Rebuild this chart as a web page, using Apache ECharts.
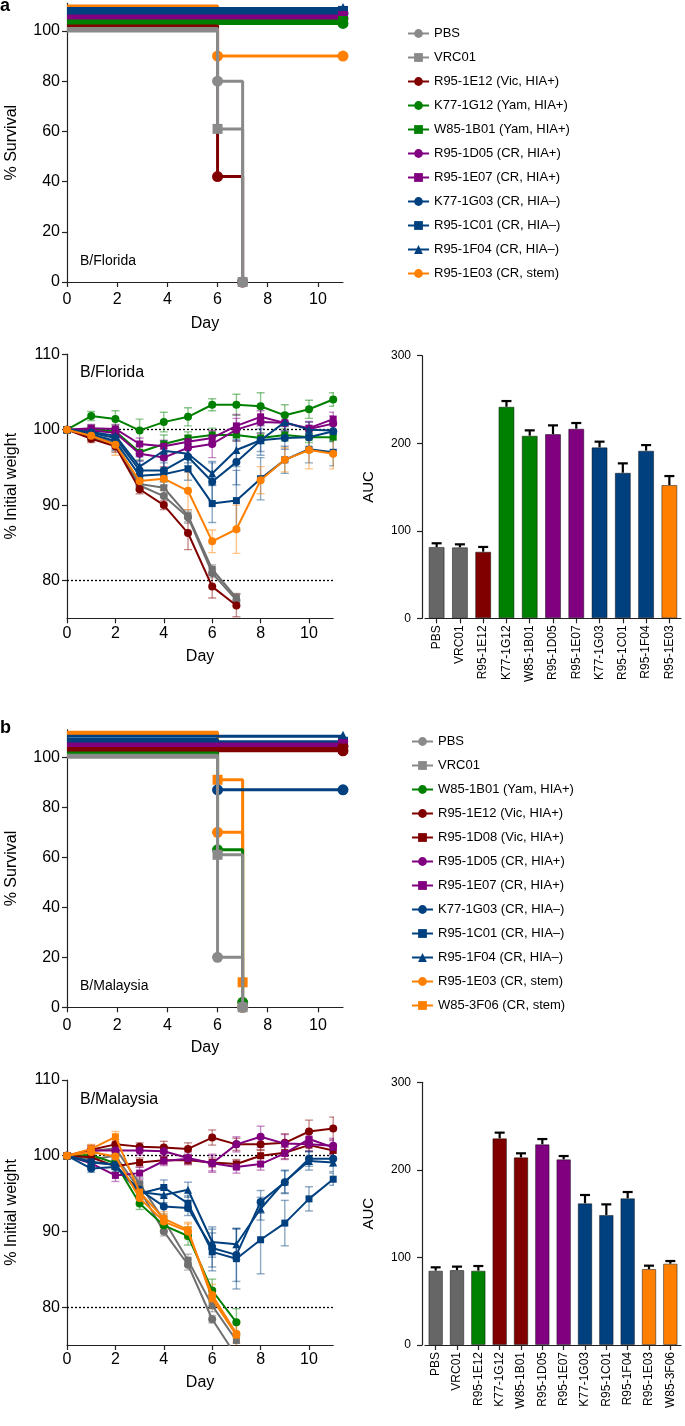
<!DOCTYPE html>
<html>
<head>
<meta charset="utf-8">
<script src="https://cdn.jsdelivr.net/npm/echarts@6/dist/echarts.min.js"></script>
<style>
  html, body { margin: 0; padding: 0; background: #fff; }
  #chart { width: 685px; height: 1426px; }
</style>
</head>
<body>
<div id="chart"></div>
<script>
// ---- data -------------------------------------------------------------
const dayTicks = [0, 2, 4, 6, 8, 10];
const survivalTicks = [0, 20, 40, 60, 80, 100];
const weightTicks = [80, 90, 100, 110];
const aucTicks = [0, 100, 200, 300];
const weightRefLines = [100, 80];

// panel a, B/Florida
const namesA = [
  'PBS', 'VRC01', 'R95-1E12 (Vic, HIA+)', 'K77-1G12 (Yam, HIA+)', 'W85-1B01 (Yam, HIA+)',
  'R95-1D05 (CR, HIA+)', 'R95-1E07 (CR, HIA+)', 'K77-1G03 (CR, HIA–)', 'R95-1C01 (CR, HIA–)',
  'R95-1F04 (CR, HIA–)', 'R95-1E03 (CR, stem)'
];
// [day, % survival] as plotted (100% lines are offset in the figure)
const survivalA = [
  [[0, 100], [6, 80], [7, 0]],
  [[0, 101], [6, 61], [7, 0]],
  [[0, 102], [6, 42], [7, 0]],
  [[0, 103], [11, 103]],
  [[0, 104], [11, 104]],
  [[0, 105], [11, 105]],
  [[0, 106], [11, 106]],
  [[0, 107], [11, 107]],
  [[0, 108], [11, 108]],
  [[0, 109], [11, 109]],
  [[0, 110], [6, 90], [11, 90]]
];
// % initial weight, day 0..11
const weightA = [
  [100, 99.0, 98.0, 92.6, 91.2, 88.4, 81.0, 77.4],
  [100, 99.2, 98.3, 92.8, 92.3, 88.6, 81.5, 77.7],
  [100, 98.8, 97.8, 92.1, 90.0, 86.3, 79.2, 76.7],
  [100, 101.8, 101.4, 99.9, 101.0, 101.7, 103.3, 103.3, 103.1, 101.9, 102.7, 104.0],
  [100, 100.1, 99.8, 97.0, 98.1, 98.9, 99.3, 99.3, 98.9, 99.3, 99.0, 99.0],
  [100, 99.9, 99.6, 96.8, 96.3, 97.6, 98.1, 100.0, 101.0, 100.9, 100.1, 100.8],
  [100, 100.2, 100.1, 98.1, 97.8, 98.4, 98.9, 100.5, 101.7, 100.9, 100.2, 101.4],
  [100, 99.6, 98.9, 94.6, 94.6, 96.4, 93.1, 95.7, 98.6, 98.9, 99.0, 99.8],
  [100, 99.4, 98.5, 93.9, 94.1, 94.8, 90.2, 90.6, 93.5, 96.0, 97.4, 97.0],
  [100, 99.7, 99.2, 95.1, 97.2, 96.8, 94.2, 97.3, 98.6, 101.0, 100.0, 99.9],
  [100, 99.2, 98.0, 93.2, 93.5, 91.9, 85.2, 86.8, 93.3, 96.0, 97.3, 96.8]
];
const weightErrA = [
  [0, 0.5, 0.8, 0.7, 0.8, 0.8, 0.6, 0.8],
  [0, 0.5, 0.8, 0.7, 0.8, 0.8, 0.6, 0.6],
  [0, 0.5, 0.8, 0.6, 0.6, 2.2, 1.5, 1.5],
  [0, 0.6, 1.1, 1.5, 1.3, 1.2, 0.8, 1.4, 1.8, 1.4, 1.2, 0.9],
  [0, 0.5, 0.8, 1.0, 1.2, 0.8, 0.9, 0.8, 0.7, 0.8, 0.7, 0.6],
  [0, 0.5, 0.6, 1.0, 1.2, 1.0, 1.8, 1.5, 1.5, 1.0, 1.0, 1.0],
  [0, 0.5, 0.6, 0.8, 0.8, 0.8, 0.9, 1.5, 1.2, 1.2, 0.8, 0.9],
  [0, 0.5, 1.0, 1.3, 1.5, 1.2, 2.5, 3.0, 2.0, 1.5, 1.5, 1.3],
  [0, 0.6, 1.2, 1.5, 1.5, 1.5, 2.5, 4.0, 2.8, 1.8, 1.8, 1.8],
  [0, 0.5, 1.0, 1.3, 1.3, 1.2, 1.6, 2.2, 1.5, 1.2, 1.0, 1.0],
  [0, 0.6, 1.4, 1.2, 1.5, 2.5, 1.5, 3.2, 1.8, 1.6, 2.5, 2.0]
];
const aucLabelsA = ['PBS', 'VRC01', 'R95-1E12', 'K77-1G12', 'W85-1B01', 'R95-1D05',
  'R95-1E07', 'K77-1G03', 'R95-1C01', 'R95-1F04', 'R95-1E03'];
const aucA = [81.5, 81.1, 76.1, 241.7, 208.6, 210.5, 216.6, 195.3, 166.3, 191.5, 152.3];
const aucErrA = [4.2, 3.4, 5.4, 6.5, 6.1, 9.9, 6.5, 6.5, 10.7, 6.4, 10.2];

// panel b, B/Malaysia
const namesB = [
  'PBS', 'VRC01', 'W85-1B01 (Yam, HIA+)', 'R95-1E12 (Vic, HIA+)', 'R95-1D08 (Vic, HIA+)',
  'R95-1D05 (CR, HIA+)', 'R95-1E07 (CR, HIA+)', 'K77-1G03 (CR, HIA–)', 'R95-1C01 (CR, HIA–)',
  'R95-1F04 (CR, HIA–)', 'R95-1E03 (CR, stem)', 'W85-3F06 (CR, stem)'
];
const survivalB = [
  [[0, 100], [6, 20], [7, 0]],
  [[0, 100.8], [6, 61], [7, 0]],
  [[0, 101.7], [6, 63], [7, 2]],
  [[0, 102.6], [11, 102.6]],
  [[0, 103.5], [11, 103.5]],
  [[0, 104.4], [11, 104.4]],
  [[0, 105.3], [11, 105.3]],
  [[0, 107.1], [6, 87], [11, 87]],
  [[0, 106.2], [11, 106.2]],
  [[0, 108.4], [11, 108.4]],
  [[0, 109.2], [6, 70], [7, 0]],
  [[0, 110], [6, 91], [7, 10]]
];
const weightB = [
  [100, 99.5, 100.0, 95.5, 90.0, 85.6, 78.4, 73.5],
  [100, 100.6, 101.0, 96.3, 91.5, 86.2, 80.2, 75.6],
  [100, 100.1, 99.0, 93.7, 90.8, 89.4, 82.2, 78.0],
  [100, 100.8, 101.5, 101.2, 101.1, 100.9, 102.4, 101.5, 101.5, 101.7, 103.2, 103.6],
  [100, 99.8, 98.6, 99.1, 99.4, 99.4, 99.1, 98.9, 100.0, 100.4, 101.4, 100.7],
  [100, 100.7, 100.7, 100.7, 100.6, 99.7, 99.0, 101.5, 102.5, 101.6, 101.5, 101.3],
  [100, 99.0, 97.4, 97.7, 99.3, 99.6, 99.0, 98.5, 98.9, 100.3, 102.2, 101.1],
  [100, 98.3, 98.5, 95.5, 93.3, 93.1, 87.8, 86.9, 93.9, 96.5, 99.6, 99.6],
  [100, 99.2, 98.8, 95.0, 95.8, 93.7, 87.3, 86.4, 88.9, 91.1, 94.3, 96.9],
  [100, 99.1, 98.8, 95.2, 94.8, 95.5, 88.6, 88.3, 93.0, 96.6, 99.3, 99.1],
  [100, 100.5, 99.9, 94.4, 91.3, 90.0, 81.6, 76.5],
  [100, 100.9, 102.5, 95.2, 91.7, 90.2, 81.1, 76.3]
];
const weightErrB = [
  [0, 0.5, 0.6, 0.8, 0.6, 0.7, 0.5, 0.8],
  [0, 0.6, 0.6, 0.8, 0.8, 0.8, 0.8, 0.8],
  [0, 0.5, 0.6, 0.8, 0.8, 1.2, 1.5, 1.8],
  [0, 0.6, 0.6, 0.5, 0.8, 0.8, 1.0, 0.8, 0.8, 1.2, 1.5, 1.5],
  [0, 0.5, 0.8, 0.6, 0.5, 0.6, 0.6, 0.6, 0.8, 0.8, 0.8, 0.6],
  [0, 0.6, 0.6, 0.6, 0.6, 0.8, 1.2, 1.0, 1.4, 1.2, 0.9, 1.0],
  [0, 0.8, 0.8, 0.8, 0.6, 0.6, 1.0, 0.8, 0.8, 0.8, 0.8, 0.9],
  [0, 0.5, 0.6, 1.0, 1.3, 1.0, 2.5, 3.5, 1.5, 1.5, 1.0, 1.0],
  [0, 0.5, 0.6, 0.8, 1.0, 1.0, 2.5, 4.0, 4.5, 3.0, 1.6, 0.8],
  [0, 0.5, 0.6, 0.8, 1.0, 1.0, 2.0, 2.0, 1.5, 1.5, 1.2, 1.2],
  [0, 0.6, 0.6, 0.8, 1.0, 1.0, 1.4, 1.2],
  [0, 0.6, 0.7, 0.8, 0.9, 1.0, 1.3, 1.8]
];
const aucLabelsB = ['PBS', 'VRC01', 'R95-1E12', 'K77-1G12', 'W85-1B01', 'R95-1D05',
  'R95-1E07', 'K77-1G03', 'R95-1C01', 'R95-1F04', 'R95-1E03', 'W85-3F06'];
const aucB = [84.9, 85.6, 84.9, 236.0, 214.3, 229.2, 212.0, 161.8, 148.5, 167.5, 86.8, 92.9];
const aucErrB = [3.8, 3.9, 5.3, 6.5, 4.6, 6.0, 3.8, 9.5, 12.1, 7.2, 3.8, 3.0];

// ---- styles -----------------------------------------------------------
const FONT = "'Liberation Sans', Arial, Helvetica, sans-serif";
const GREY = '#8a8a8a';
const GREY_W = '#707070';
const GREY_BAR = '#666666';
const RED = '#800000';
const GREEN = '#008000';
const PURPLE = '#800080';
const BLUE = '#00407f';
const ORANGE = '#ff8000';

const colorsA = [GREY, GREY, RED, GREEN, GREEN, PURPLE, PURPLE, BLUE, BLUE, BLUE, ORANGE];
const shapesA = ['circle', 'rect', 'circle', 'circle', 'rect', 'circle', 'rect', 'circle', 'rect', 'triangle', 'circle'];
const barColorsA = [GREY_BAR, GREY_BAR, RED, GREEN, GREEN, PURPLE, PURPLE, BLUE, BLUE, BLUE, ORANGE];

const colorsB = [GREY, GREY, GREEN, RED, RED, PURPLE, PURPLE, BLUE, BLUE, BLUE, ORANGE, ORANGE];
const shapesB = ['circle', 'rect', 'circle', 'circle', 'rect', 'circle', 'rect', 'circle', 'rect', 'triangle', 'circle', 'rect'];
const barColorsB = [GREY_BAR, GREY_BAR, GREEN, RED, RED, PURPLE, PURPLE, BLUE, BLUE, BLUE, ORANGE, ORANGE];

const axisLineStyle = { color: '#222', width: 1.2 };

function rgba(hex, a) {
  const n = parseInt(hex.slice(1), 16);
  return `rgba(${(n >> 16) & 255},${(n >> 8) & 255},${n & 255},${a})`;
}

function weightColor(c) {
  return c === GREY ? GREY_W : c;
}

// ---- axes -------------------------------------------------------------
function dayAxis(grid, margin, gap) {
  return {
    type: 'value', gridIndex: grid, min: 0, max: 11,
    name: 'Day', nameLocation: 'middle', nameGap: gap,
    nameTextStyle: { fontSize: 16, color: '#000', fontFamily: FONT },
    axisLine: { show: true, onZero: false, lineStyle: axisLineStyle },
    axisTick: { show: true, length: 5, customValues: dayTicks, lineStyle: axisLineStyle },
    axisLabel: { customValues: dayTicks, fontSize: 16, color: '#000', fontFamily: FONT, margin },
    splitLine: { show: false }
  };
}

function leftAxis(grid, min, max, ticks, name) {
  return {
    type: 'value', gridIndex: grid, min, max,
    name, nameLocation: 'middle', nameRotate: 90, nameGap: 47,
    nameTextStyle: { fontSize: 16, color: '#000', fontFamily: FONT },
    axisLine: { show: true, onZero: false, lineStyle: axisLineStyle },
    axisTick: { show: true, length: 5, customValues: ticks, lineStyle: axisLineStyle },
    axisLabel: { customValues: ticks, fontSize: 16, color: '#000', fontFamily: FONT, margin: 7 },
    splitLine: { show: false }
  };
}

function aucYAxis(grid) {
  return {
    type: 'value', gridIndex: grid, min: 0, max: 300, interval: 100, offset: 3,
    name: 'AUC', nameLocation: 'middle', nameRotate: 90, nameGap: 46,
    nameTextStyle: { fontSize: 15, color: '#000', fontFamily: FONT },
    axisLine: { show: true, lineStyle: axisLineStyle },
    axisTick: { show: true, length: 5, customValues: aucTicks, lineStyle: axisLineStyle },
    axisLabel: { customValues: aucTicks, fontSize: 12, color: '#000', fontFamily: FONT, margin: 11 },
    splitLine: { show: false }
  };
}

function aucXAxis(grid, labels) {
  return {
    type: 'category', gridIndex: grid, data: labels,
    axisLine: { show: true, onZero: false, lineStyle: axisLineStyle },
    axisTick: { show: true, alignWithLabel: true, length: 5, lineStyle: axisLineStyle },
    axisLabel: { rotate: 90, interval: 0, fontSize: 12, color: '#000', fontFamily: FONT, margin: 7 },
    splitLine: { show: false }
  };
}

// ---- series builders --------------------------------------------------
function survivalSeries(names, data, colors, shapes, axis, suffix) {
  const n = names.length;
  return names.map((name, i) => ({
    name: name + suffix, type: 'line', xAxisIndex: axis, yAxisIndex: axis,
    step: 'end', clip: false, z: 10 + (n - i),
    data: data[i].map((p, j) => (j === 0 ? { value: p, symbol: 'none' } : p)),
    symbol: shapes[i], symbolSize: shapes[i] === 'rect' ? 10 : 11,
    lineStyle: { width: 3, color: colors[i] },
    itemStyle: { color: colors[i] },
    emphasis: { disabled: true }
  }));
}

function weightSeries(names, data, colors, shapes, axis, suffix) {
  return names.map((name, i) => {
    const c = weightColor(colors[i]);
    const s = {
      name: name + suffix, type: 'line', xAxisIndex: axis, yAxisIndex: axis,
      z: 10 + i,
      data: data[i].map((v, d) => [d, v]),
      symbol: shapes[i], symbolSize: shapes[i] === 'rect' ? 7 : 8,
      lineStyle: { width: 2, color: c },
      itemStyle: { color: c },
      emphasis: { disabled: true }
    };
    if (i === 0) {
      s.markLine = {
        silent: true, symbol: 'none', label: { show: false },
        lineStyle: { type: [2, 2], color: '#000', width: 1.3 },
        data: weightRefLines.map(v => ({ yAxis: v }))
      };
    }
    return s;
  });
}

function errorRender(capHalf, width, color, capBottom) {
  return function (params, api) {
    const x = api.value(0);
    const lo = api.coord([x, api.value(1)]);
    const hi = api.coord([x, api.value(2)]);
    const style = { stroke: color, lineWidth: width };
    const kids = [
      { type: 'line', shape: { x1: lo[0], y1: lo[1], x2: hi[0], y2: hi[1] }, style },
      { type: 'line', shape: { x1: hi[0] - capHalf, y1: hi[1], x2: hi[0] + capHalf, y2: hi[1] }, style }
    ];
    if (capBottom) {
      kids.push({ type: 'line', shape: { x1: lo[0] - capHalf, y1: lo[1], x2: lo[0] + capHalf, y2: lo[1] }, style });
    }
    return { type: 'group', children: kids };
  };
}

function weightErrorSeries(data, err, colors, axis) {
  return data.map((vals, i) => ({
    type: 'custom', xAxisIndex: axis, yAxisIndex: axis, z: 5, clip: true,
    renderItem: errorRender(4, 1.4, rgba(weightColor(colors[i]), 0.45), true),
    data: vals.map((v, d) => [d, v - err[i][d], v + err[i][d]]).filter((p, d) => err[i][d] > 0),
    silent: true
  }));
}

function aucSeries(values, err, colors, axis, barWidth) {
  return [
    {
      type: 'bar', xAxisIndex: axis, yAxisIndex: axis, barWidth,
      data: values.map((v, i) => ({ value: v, itemStyle: { color: colors[i] } })),
      itemStyle: { borderColor: 'rgba(0,0,0,0.45)', borderWidth: 1 },
      emphasis: { disabled: true }
    },
    {
      type: 'custom', xAxisIndex: axis, yAxisIndex: axis, z: 3, silent: true,
      renderItem: errorRender(5, 2.2, '#000', false),
      data: values.map((v, i) => [i, v, v + err[i]])
    }
  ];
}

// ---- chart ------------------------------------------------------------
const chart = echarts.init(document.getElementById('chart'));

const legendBase = {
  orient: 'vertical', itemWidth: 21, itemHeight: 11, itemGap: 11, selectedMode: false,
  textStyle: { fontSize: 13, color: '#000', fontFamily: FONT }
};

const titleStyle = { fontSize: 14, fontWeight: 'normal', color: '#000', fontFamily: FONT };

chart.setOption({
  animation: false,
  textStyle: { fontFamily: FONT },
  title: [
    { text: 'a', left: 0, top: -3, padding: 0, textStyle: { fontSize: 18, fontWeight: 'bold', color: '#000', fontFamily: FONT } },
    { text: 'B/Florida', left: 80, top: 254, padding: 0, textStyle: titleStyle },
    { text: 'B/Florida', left: 80, top: 365, padding: 0, textStyle: Object.assign({}, titleStyle, { fontSize: 16 }) },
    { text: 'b', left: 0, top: 719, padding: 0, textStyle: { fontSize: 18, fontWeight: 'bold', color: '#000', fontFamily: FONT } },
    { text: 'B/Malaysia', left: 80, top: 979, padding: 0, textStyle: titleStyle },
    { text: 'B/Malaysia', left: 80, top: 1092, padding: 0, textStyle: Object.assign({}, titleStyle, { fontSize: 16 }) }
  ],
  legend: [
    Object.assign({}, legendBase, { data: namesA, left: 402, top: 22 }),
    Object.assign({}, legendBase, { data: namesB.map(n => n + ' '), left: 406, top: 730 })
  ],
  grid: [
    { left: 67, top: 3.4, width: 276, height: 278.6 },
    { left: 67, top: 354.2, width: 266.2, height: 264.1 },
    { left: 425, top: 355.7, width: 256, height: 262.6 },
    { left: 67, top: 729.8, width: 276, height: 277.5 },
    { left: 67, top: 1080, width: 266.2, height: 265 },
    { left: 425, top: 1082.3, width: 256, height: 262.7 }
  ],
  xAxis: [
    dayAxis(0, 10, 34),
    dayAxis(1, 7, 30),
    aucXAxis(2, aucLabelsA),
    dayAxis(3, 10, 32),
    dayAxis(4, 7, 30),
    aucXAxis(5, aucLabelsB)
  ],
  yAxis: [
    leftAxis(0, 0, 111, survivalTicks, '% Survival'),
    leftAxis(1, 75, 110, weightTicks, '% Initial weight'),
    aucYAxis(2),
    leftAxis(3, 0, 111, survivalTicks, '% Survival'),
    leftAxis(4, 75, 110, weightTicks, '% Initial weight'),
    aucYAxis(5)
  ],
  series: [].concat(
    survivalSeries(namesA, survivalA, colorsA, shapesA, 0, ''),
    weightErrorSeries(weightA, weightErrA, colorsA, 1),
    weightSeries(namesA, weightA, colorsA, shapesA, 1, ''),
    aucSeries(aucA, aucErrA, barColorsA, 2, 16),
    survivalSeries(namesB, survivalB, colorsB, shapesB, 3, ' '),
    weightErrorSeries(weightB, weightErrB, colorsB, 4),
    weightSeries(namesB, weightB, colorsB, shapesB, 4, ' '),
    aucSeries(aucB, aucErrB, barColorsB, 5, 14.5)
  )
});
</script>
</body>
</html>
